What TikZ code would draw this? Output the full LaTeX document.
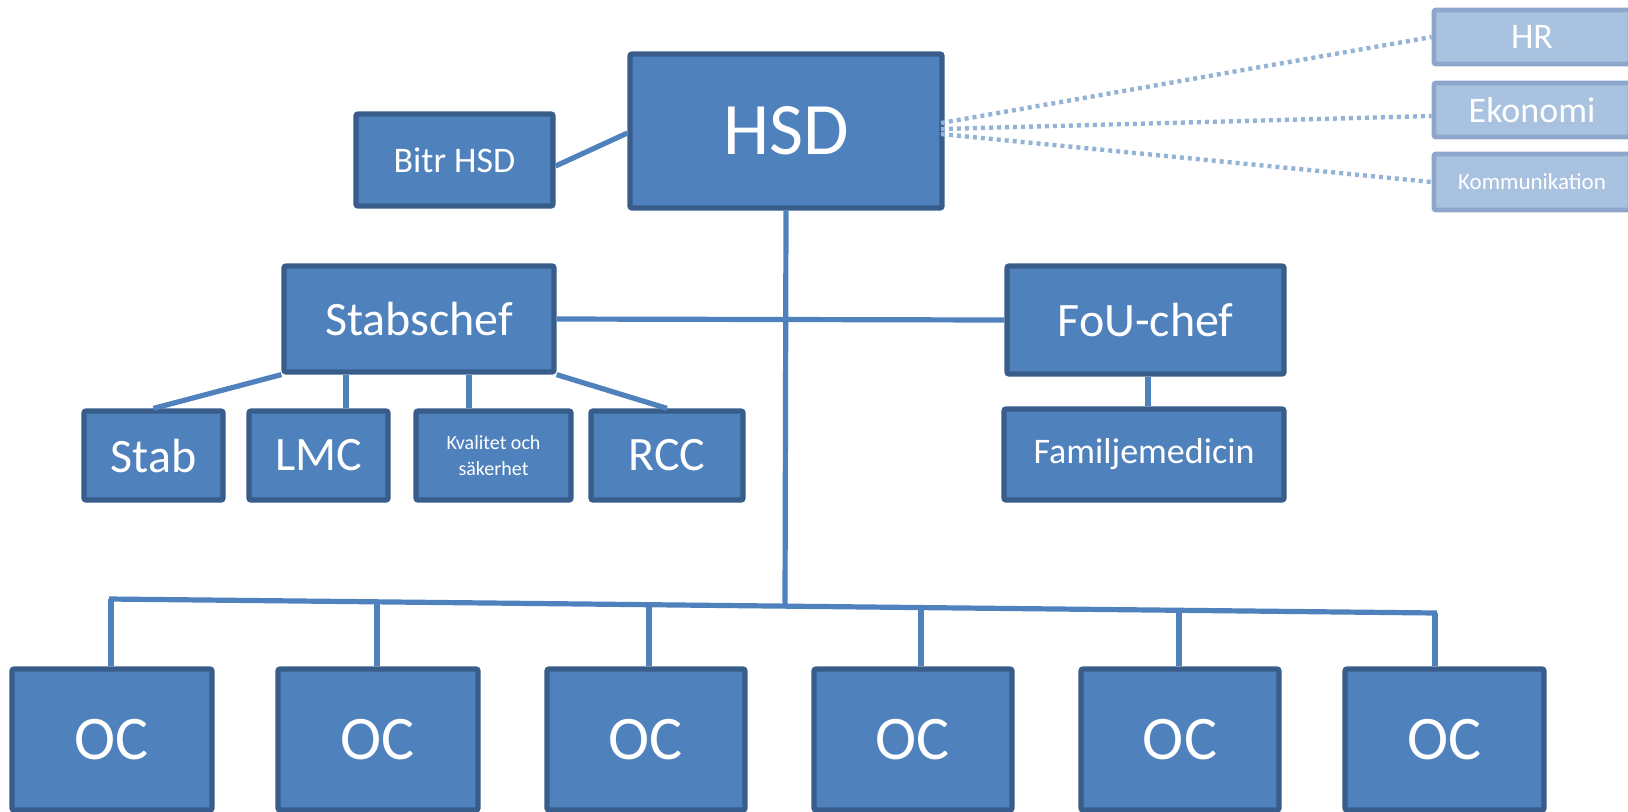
\documentclass[tikz,border=0pt]{standalone}
\usepackage{fontspec}
\setmainfont{Carlito}
\definecolor{boxfill}{HTML}{4F81BD}
\definecolor{boxdraw}{HTML}{385D8A}
\definecolor{litefill}{HTML}{A9C2E0}
\definecolor{litedraw}{HTML}{8DA7CC}
\definecolor{dotc}{HTML}{95B3D7}
\newcommand\fs[1]{\fontsize{#1}{#1}\selectfont}
\begin{document}
\begin{tikzpicture}[x=0.5pt,y=-0.5pt,
  orgbox/.style={draw=boxdraw, fill=boxfill, line width=2.6pt, text=white, rounded corners=1pt, inner sep=0pt, align=center},
  litebox/.style={draw=litedraw, fill=litefill, line width=2.4pt, text=white, rounded corners=1pt, inner sep=0pt},
  conn/.style={draw=boxfill, line width=2.6pt},
  dotconn/.style={draw=dotc, line width=2.2pt, dash pattern=on 2pt off 2pt}]
\useasboundingbox (0,0) rectangle (1628,811);
\begin{scope}
\clip (0,0) rectangle (1628,811);
% top
\node[orgbox, minimum width=156pt, minimum height=77pt, font=\fs{37}] (hsd) at (786,131) {HSD};
\node[orgbox, minimum width=98.5pt, minimum height=46pt, font=\fs{18}] (bitr) at (454.5,160) {Bitr HSD};
\node[litebox, minimum width=98pt, minimum height=27pt, font=\fs{18}] (hr) at (1532,37) {HR};
\node[litebox, minimum width=98pt, minimum height=27pt, font=\fs{18}] (eko) at (1532,110) {Ekonomi};
\node[litebox, minimum width=98pt, minimum height=28pt, font=\fs{11.5}] (komm) at (1532,182) {Kommunikation};
% middle
\node[orgbox, minimum width=135pt, minimum height=53pt, font=\fs{24}] (stabschef) at (419,319) {Stabschef};
\node[orgbox, minimum width=138.5pt, minimum height=54pt, font=\fs{24}] (fou) at (1145.5,320) {FoU-chef};
\node[orgbox, minimum width=69.5pt, minimum height=44.5pt, font=\fs{24}] (stab) at (153.5,455.5) {Stab};
\node[orgbox, minimum width=69.5pt, minimum height=44.5pt, font=\fs{24}] (lmc) at (318.5,455.5) {LMC};
\node[orgbox, minimum width=77.5pt, minimum height=44.5pt, font=\fontsize{10}{13}\selectfont] (kval) at (493.5,455.5) {Kvalitet och\\säkerhet};
\node[orgbox, minimum width=76pt, minimum height=44.5pt, font=\fs{24}] (rcc) at (667,455.5) {RCC};
\node[orgbox, minimum width=140pt, minimum height=45.5pt, font=\fs{18}] (fam) at (1144,454.5) {Familjemedicin};
% bottom
\node[orgbox, minimum width=100pt, minimum height=70.5pt, font=\fs{31}] (oc1) at (112,739.5) {OC};
\node[orgbox, minimum width=100pt, minimum height=70.5pt, font=\fs{31}] (oc2) at (378,739.5) {OC};
\node[orgbox, minimum width=99pt, minimum height=70.5pt, font=\fs{31}] (oc3) at (646,739.5) {OC};
\node[orgbox, minimum width=99pt, minimum height=70.5pt, font=\fs{31}] (oc4) at (913,739.5) {OC};
\node[orgbox, minimum width=99pt, minimum height=70.5pt, font=\fs{31}] (oc5) at (1180,739.5) {OC};
\node[orgbox, minimum width=99.5pt, minimum height=70.5pt, font=\fs{31}] (oc6) at (1444.5,739.5) {OC};
\end{scope}
% coordinates
\coordinate (stemend) at (785,606.1);
\coordinate (bL) at (109,599);
\coordinate (bR) at (1437,613);
\coordinate (b1) at (111,599);
\coordinate (b2) at (377,601.8);
\coordinate (b3) at (649,604.7);
\coordinate (b4) at (921,607.6);
\coordinate (b5) at (1179,610.3);
\coordinate (b6) at (1435,613);
\coordinate (lmcx) at (346,0);
\coordinate (kvalx) at (469,0);
\coordinate (famx) at (1148,0);
\coordinate (dhr) at (941,123);
\coordinate (deko) at (941,129);
\coordinate (dkomm) at (941,134);
% connectors
\draw[conn] ([yshift=-3pt]bitr.east) -- ([yshift=-1pt]hsd.west);
\draw[conn] (hsd.south) -- (stemend);
\draw[conn] (stabschef.east) -- (fou.west);
\draw[conn] (stabschef.south west) -- (stab.north);
\draw[conn] (stabschef.south -| lmcx) -- (lmc.north -| lmcx);
\draw[conn] (stabschef.south -| kvalx) -- (kval.north -| kvalx);
\draw[conn] (stabschef.south east) -- (rcc.north);
\draw[conn] (fou.south -| famx) -- (fam.north -| famx);
\draw[conn] (bL) -- (bR);
\foreach \i in {1,...,6}{
  \draw[conn] (b\i) -- (b\i |- oc\i.north);
}
\draw[dotconn] (dhr) -- (hr.west);
\draw[dotconn] (deko) -- ([yshift=-3pt]eko.west);
\draw[dotconn] (dkomm) -- (komm.west);
\end{tikzpicture}
\end{document}
